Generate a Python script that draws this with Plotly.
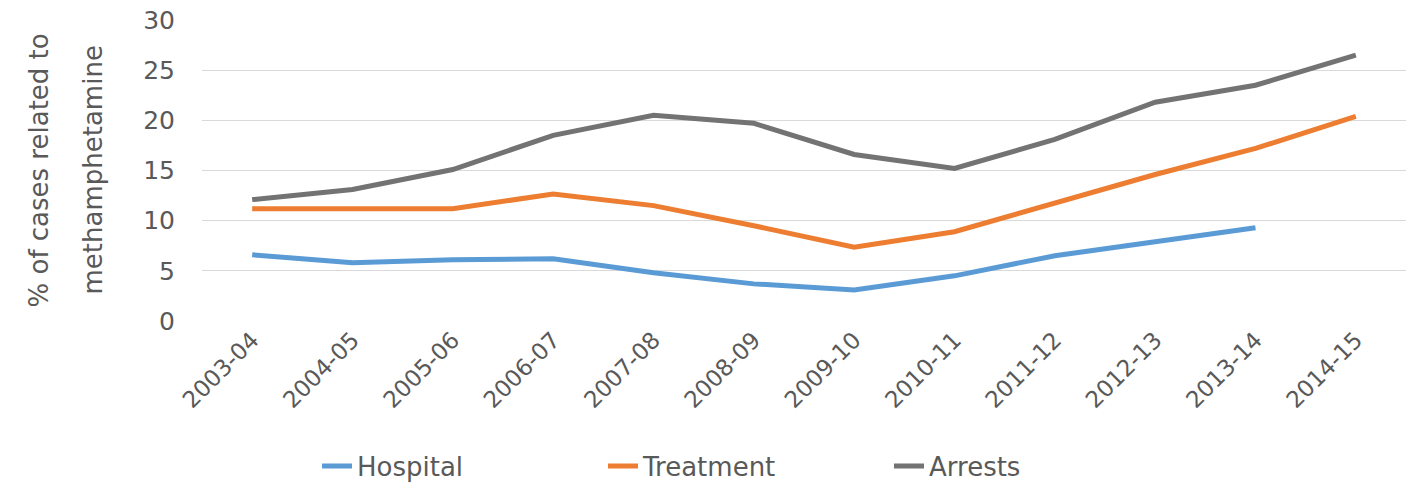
import plotly.graph_objects as go

years = ["2003-04", "2004-05", "2005-06", "2006-07", "2007-08", "2008-09",
         "2009-10", "2010-11", "2011-12", "2012-13", "2013-14", "2014-15"]
hospital = [6.6, 5.8, 6.1, 6.2, 4.8, 3.7, 3.1, 4.5, 6.5, 7.9, 9.3, None]
treatment = [11.2, 11.2, 11.2, 12.65, 11.5, 9.5, 7.35, 8.9, 11.7, 14.6, 17.2, 20.4]
arrests = [12.1, 13.1, 15.1, 18.5, 20.5, 19.7, 16.6, 15.2, 18.1, 21.8, 23.5, 26.5]

series = [("Hospital", hospital, "#5B9BD5"),
          ("Treatment", treatment, "#ED7D31"),
          ("Arrests", arrests, "#737373")]

title_lines = ["% of cases related to", "methamphetamine"]

FONT = "DejaVu Sans, Liberation Sans, sans-serif"
TXT = "#595959"

W, H = 1419, 483
L, R, T, B = 202, 13, 20, 162
pw = W - L - R

fig = go.Figure()
for name, vals, color in series:
    fig.add_trace(go.Scatter(x=years, y=vals, name=name, mode="lines",
                             line=dict(color=color, width=5),
                             connectgaps=False))

# two-line y-axis title, as annotations to control line spacing
for i, (txt, px) in enumerate(zip(title_lines, [38, 92])):
    fig.add_annotation(text=txt, textangle=-90, xref="paper", yref="paper",
                       x=(px - L) / pw, y=0.5, xanchor="center", yanchor="middle",
                       showarrow=False, font=dict(size=26, color=TXT))

fig.update_layout(
    width=W, height=H,
    margin=dict(l=L, r=R, t=T, b=B, autoexpand=False),
    paper_bgcolor="white", plot_bgcolor="white",
    font=dict(family=FONT, color=TXT),
    showlegend=True,
    legend=dict(orientation="h", xref="container", yref="container",
                x=317 / W, xanchor="left", y=1 - 466 / H, yanchor="middle",
                font=dict(size=26, color=TXT), entrywidth=241,
                traceorder="normal"),
    xaxis=dict(type="category", tickangle=-45, showgrid=False,
               showline=False, zeroline=False,
               tickfont=dict(size=23, color=TXT), ticks="",
               range=[-0.5, 11.5]),
    yaxis=dict(range=[0, 30], dtick=5, showgrid=True, gridcolor="#D9D9D9",
               gridwidth=1, zeroline=False, showline=False,
               tickfont=dict(size=25, color=TXT), ticklabelstandoff=26),
)

fig.write_html("out.html", config={"displayModeBar": False},
               post_script="document.body.style.margin='0';document.body.style.overflow='hidden';")
